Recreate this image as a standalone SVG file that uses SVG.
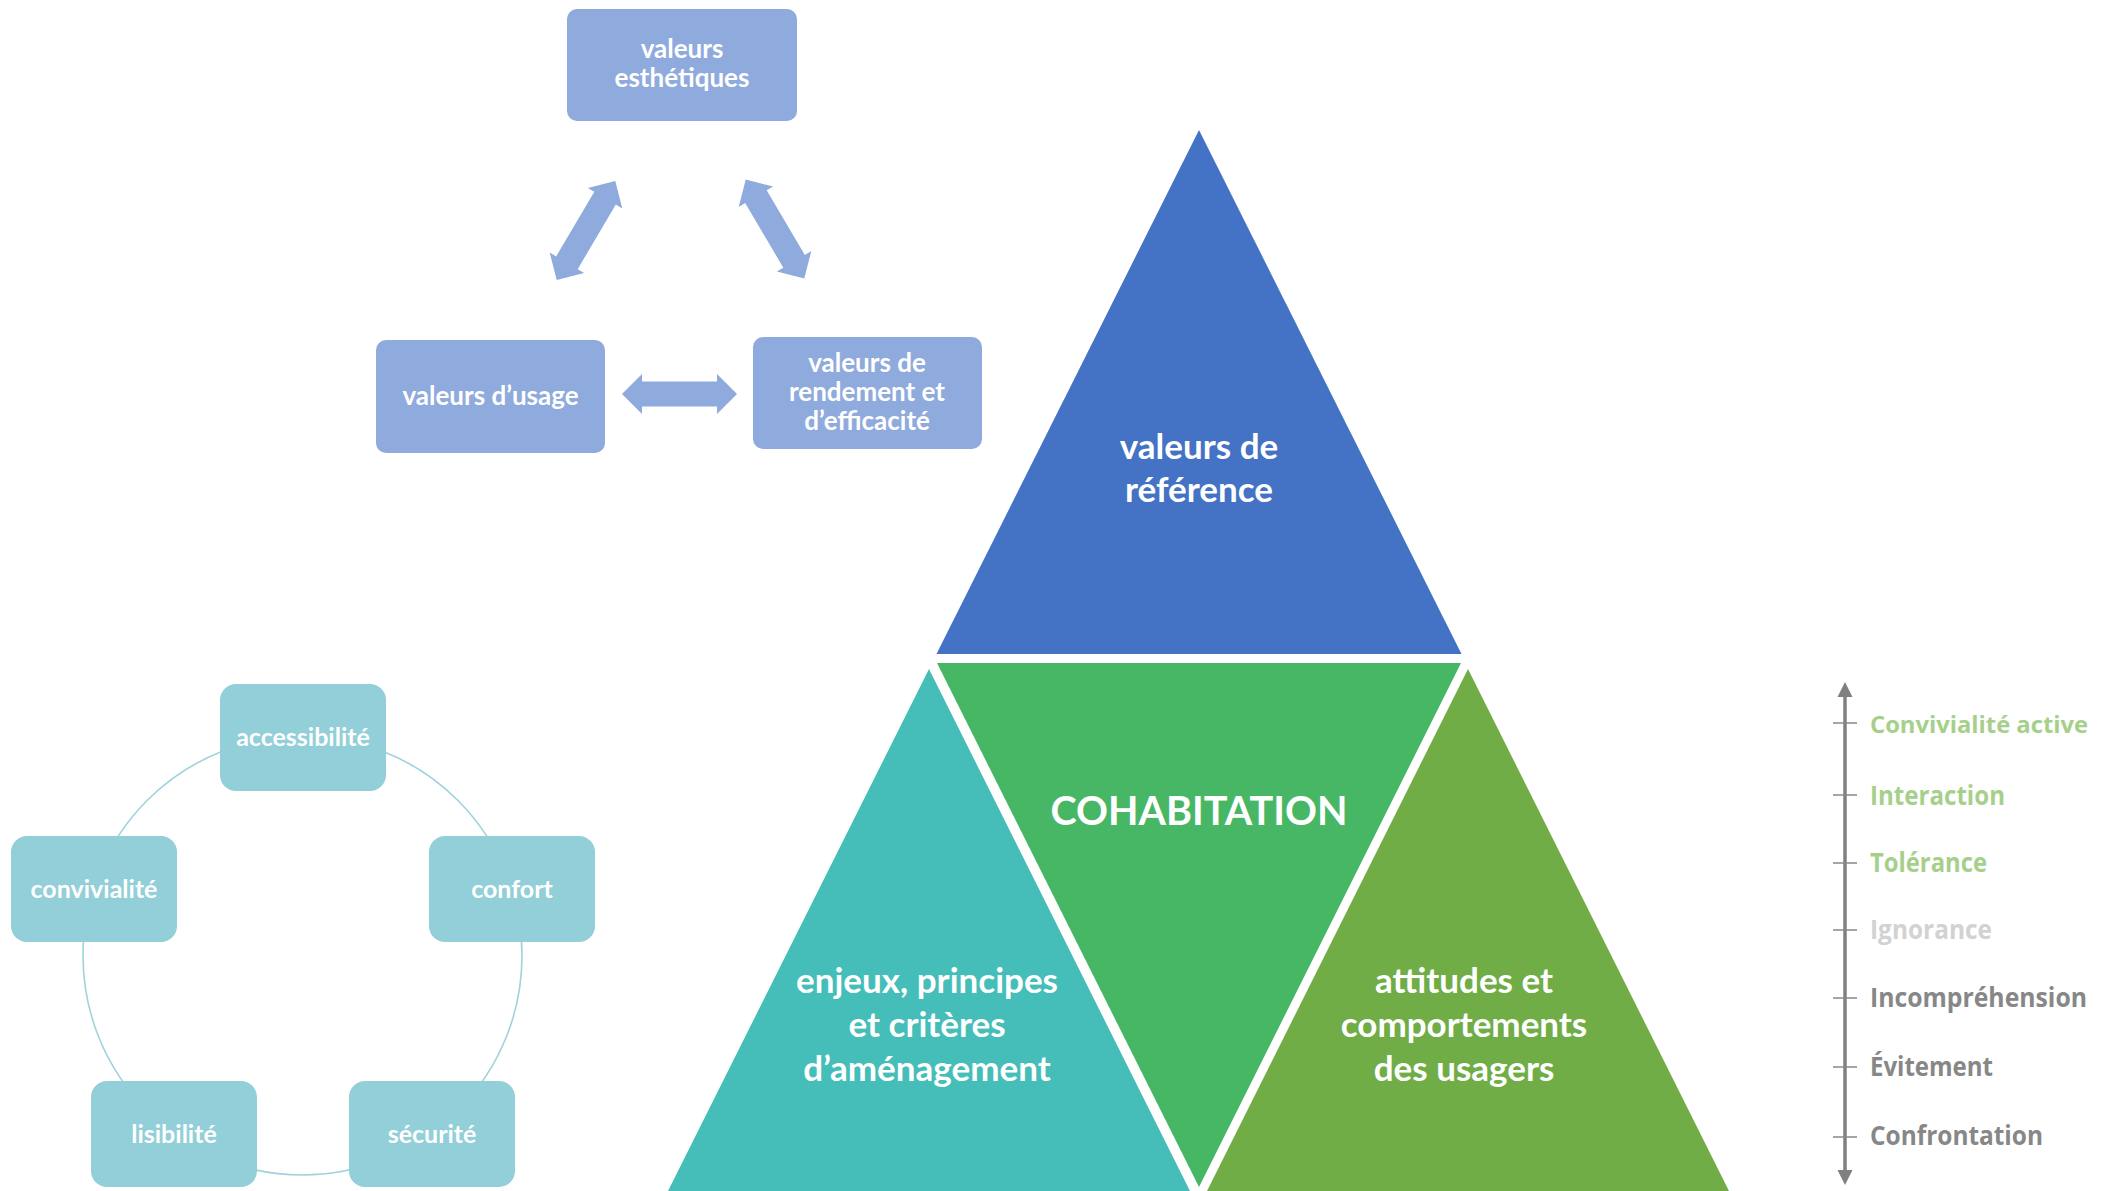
<svg xmlns="http://www.w3.org/2000/svg" width="2105" height="1191" viewBox="0 0 2105 1191">
<defs>
<style>
.t{font-family:Lato,"Open Sans","Liberation Sans",sans-serif;font-weight:700;fill:#fff;text-anchor:middle}
.bx{fill:#8FAADC}
.tb{fill:#92CFD8}
.darr{fill:#8FAADC}
.sc{font-family:"Open Sans","Noto Sans","Liberation Sans",sans-serif;font-weight:700;font-size:26px}
.g{fill:#A6CF8B}
.gy{fill:#878787}
.lg{fill:#D2D2D2}
.tick{stroke:#888;stroke-width:1.5}
</style>
<polygon id="dbl" points="-57.5,0 -37.5,-20 -37.5,-12.5 37.5,-12.5 37.5,-20 57.5,0 37.5,20 37.5,12.5 -37.5,12.5 -37.5,20"/>
</defs>
<rect width="2105" height="1191" fill="#fff"/>

<g id="connectors">
<use href="#dbl" class="darr" transform="translate(679.5,394)"/>
<use href="#dbl" class="darr" transform="translate(586,230.5) rotate(-59.4)"/>
<use href="#dbl" class="darr" transform="translate(775,229) rotate(59.4)"/>
<circle cx="302.5" cy="955.5" r="219.5" fill="none" stroke="#9ED3DB" stroke-width="1.6"/>
</g>

<g id="valeurs-esthetiques">
<rect class="bx" x="567" y="9" width="230" height="112" rx="10"/>
<text class="t" font-size="26" x="682" y="58">valeurs</text>
<text class="t" font-size="26" x="682" y="87">esthétiques</text>
</g>
<g id="valeurs-usage">
<rect class="bx" x="376" y="340" width="229" height="113" rx="10"/>
<text class="t" font-size="26" x="490.5" y="405">valeurs d’usage</text>
</g>
<g id="valeurs-rendement">
<rect class="bx" x="753" y="337" width="229" height="112" rx="10"/>
<text class="t" font-size="26" x="867" y="372">valeurs de</text>
<text class="t" font-size="26" x="867" y="401">rendement et</text>
<text class="t" font-size="26" x="867" y="430">d’efficacité</text>
</g>

<g id="accessibilite">
<rect class="tb" x="220" y="684" width="166" height="107" rx="16"/>
<text class="t" font-size="25" x="303" y="746">accessibilité</text>
</g>
<g id="confort">
<rect class="tb" x="429" y="836" width="166" height="106" rx="16"/>
<text class="t" font-size="25" x="512" y="898">confort</text>
</g>
<g id="securite">
<rect class="tb" x="349" y="1081" width="166" height="106" rx="16"/>
<text class="t" font-size="25" x="432" y="1143">sécurité</text>
</g>
<g id="lisibilite">
<rect class="tb" x="91" y="1081" width="166" height="106" rx="16"/>
<text class="t" font-size="25" x="174" y="1143">lisibilité</text>
</g>
<g id="convivialite">
<rect class="tb" x="11" y="836" width="166" height="106" rx="16"/>
<text class="t" font-size="25" x="94" y="898">convivialité</text>
</g>

<g id="valeurs-reference">
<polygon points="1199,130 1461.5,654 936.5,654" fill="#4472C4"/>
<text class="t" font-size="35" x="1199" y="459">valeurs de</text>
<text class="t" font-size="35" x="1199" y="502">référence</text>
</g>
<g id="cohabitation">
<polygon points="937,663 1461,663 1199,1187" fill="#48B765"/>
<text class="t" font-size="40" x="1199" y="825" textLength="297" lengthAdjust="spacingAndGlyphs">COHABITATION</text>
</g>
<g id="enjeux">
<polygon points="929,669 1191,1193 667,1193" fill="#45BDB8"/>
<text class="t" font-size="35" x="927" y="993">enjeux, principes</text>
<text class="t" font-size="35" x="927" y="1037">et critères</text>
<text class="t" font-size="35" x="927" y="1081">d’aménagement</text>
</g>
<g id="attitudes">
<polygon points="1468,669 1730,1193 1206,1193" fill="#70AD47"/>
<text class="t" font-size="35" x="1464" y="993">attitudes et</text>
<text class="t" font-size="35" x="1464" y="1037">comportements</text>
<text class="t" font-size="35" x="1464" y="1081">des usagers</text>
</g>

<g id="echelle">
<line x1="1845" y1="694" x2="1845" y2="1173" stroke="#808080" stroke-width="3.5"/>
<polygon points="1845,682 1852.5,697 1837.5,697" fill="#808080"/>
<polygon points="1845,1185 1852.5,1170 1837.5,1170" fill="#808080"/>
<line class="tick" x1="1833" y1="723" x2="1857" y2="723"/>
<line class="tick" x1="1833" y1="795" x2="1857" y2="795"/>
<line class="tick" x1="1833" y1="863" x2="1857" y2="863"/>
<line class="tick" x1="1833" y1="930" x2="1857" y2="930"/>
<line class="tick" x1="1833" y1="998" x2="1857" y2="998"/>
<line class="tick" x1="1833" y1="1067" x2="1857" y2="1067"/>
<line class="tick" x1="1833" y1="1137" x2="1857" y2="1137"/>
<text class="sc g" x="1870" y="733" font-size="23" textLength="218" lengthAdjust="spacingAndGlyphs" style="font-size:23px">Convivialité active</text>
<text class="sc g" x="1870" y="805" textLength="135" lengthAdjust="spacingAndGlyphs">Interaction</text>
<text class="sc g" x="1870" y="872" textLength="117" lengthAdjust="spacingAndGlyphs">Tolérance</text>
<text class="sc lg" x="1870" y="939" textLength="122" lengthAdjust="spacingAndGlyphs">Ignorance</text>
<text class="sc gy" x="1870" y="1007" textLength="217" lengthAdjust="spacingAndGlyphs">Incompréhension</text>
<text class="sc gy" x="1870" y="1076" textLength="123" lengthAdjust="spacingAndGlyphs">Évitement</text>
<text class="sc gy" x="1870" y="1145" textLength="173" lengthAdjust="spacingAndGlyphs">Confrontation</text>
</g>
</svg>
